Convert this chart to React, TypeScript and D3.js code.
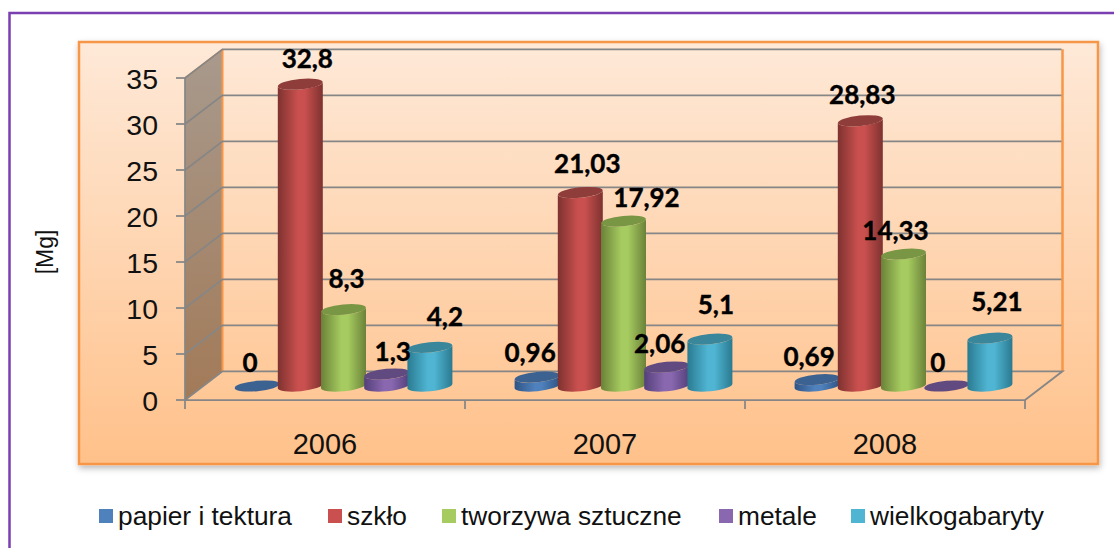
import { scaleBand, scaleLinear, range } from "d3";

const years = ["2006", "2007", "2008"];
const seriesNames = ["papier i tektura", "szkło", "tworzywa sztuczne", "metale", "wielkogabaryty"];
const papier = [0, 0.96, 0.69];
const szklo = [32.8, 21.03, 28.83];
const tworzywa = [8.3, 17.92, 14.33];
const metale = [1.3, 2.06, 0];
const wielkogabaryty = [4.2, 5.1, 5.21];
const seriesValues = [papier, szklo, tworzywa, metale, wielkogabaryty];
const yTicks = [0, 5, 10, 15, 20, 25, 30, 35];

// hand placed data labels in the original, offset from the top of each bar [dx, dy]
const labelNudge = [
  [[-7, -14.5], [-7, -15], [-8, -14]],
  [[7, -16], [7, -20], [2, -17]],
  [[3, -22], [23, -14], [-8, -14]],
  [[6, -13.5], [-7, -14.5], [-9, -14.5]],
  [[15, -21], [6, -25], [7, -27]],
];

const colors = [
  { edge: "#2f5485", mid: "#4f81bd", top: "#3c6291" },
  { edge: "#7e3230", mid: "#c9504e", top: "#8f3d3b" },
  { edge: "#6a8238", mid: "#a6cb60", top: "#789644" },
  { edge: "#54407a", mid: "#8a68b0", top: "#604a80" },
  { edge: "#2a7a90", mid: "#4fb5d3", top: "#3a879c" },
];

const depthX = 37.5;
const depthY = -28.7;
const rx = 22.5;
const ry = 5.2;
const tilt = 2.2;

const x0 = scaleBand<string>().domain(years).range([185, 1025]);
const x1 = scaleBand<number>().domain(range(seriesNames.length)).range([50.5, 266.5]);
const y = scaleLinear().domain([0, 35]).range([400, 78]);

const barBase = 386;
const barHeight = (v: number) => y(0) - y(v);

const cylinder = (cx: number, yTop: number, yBase: number) =>
  `M${cx - rx},${yTop + tilt} L${cx - rx},${yBase + tilt} ` +
  `A${rx},${ry} -5.5 0 0 ${cx + rx},${yBase - tilt} L${cx + rx},${yTop - tilt} ` +
  `A${rx},${ry} -5.5 0 1 ${cx - rx},${yTop + tilt} Z`;

const fmt = (v: number) => String(v).replace(".", ",");

export default function App() {
  const xL = 185;
  const xR = 1025;
  const legendItems = [
    { sw: 99, tx: 118 },
    { sw: 328, tx: 347 },
    { sw: 442, tx: 461 },
    { sw: 719, tx: 738 },
    { sw: 851, tx: 870 },
  ];
  return (
    <svg
      width={1114}
      height={548}
      style={{ position: "fixed", left: 0, top: 0, background: "#fff" }}
      fontFamily="'Liberation Sans', Arial, sans-serif"
    >
      <defs>
        <linearGradient id="panel" x1="0" y1="0" x2="0" y2="1">
          <stop offset="0" stopColor="#fee9d8" />
          <stop offset="1" stopColor="#ffc18a" />
        </linearGradient>
        <linearGradient id="wall" x1="0" y1="0" x2="0" y2="1">
          <stop offset="0" stopColor="#a89a8d" />
          <stop offset="1" stopColor="#a27a58" />
        </linearGradient>
        <filter id="shadow" x="-2%" y="-2%" width="104%" height="106%">
          <feDropShadow dx="1" dy="3" stdDeviation="3" floodColor="#000" floodOpacity="0.28" />
        </filter>
        {colors.map((c, i) => (
          <linearGradient key={i} id={`cyl${i}`} x1="0" y1="0" x2="1" y2="0">
            <stop offset="0" stopColor={c.edge} />
            <stop offset="0.45" stopColor={c.mid} />
            <stop offset="0.6" stopColor={c.mid} />
            <stop offset="1" stopColor={c.edge} />
          </linearGradient>
        ))}
      </defs>

      <path d="M9.5,548 L9.5,13 L1114,13" fill="none" stroke="#7a3fb0" strokeWidth={2.5} />

      <rect x={79} y={42} width={1019} height={422} fill="url(#panel)" stroke="#f79646" strokeWidth={2.5} filter="url(#shadow)" />

      {/* side wall */}
      <polygon
        points={`${xL},${y(35)} ${xL + depthX},${y(35) + depthY} ${xL + depthX},${y(0) + depthY} ${xL},${y(0)}`}
        fill="url(#wall)"
      />
      <line x1={xL} y1={y(35)} x2={xL + depthX} y2={y(35) + depthY} stroke="#f79646" strokeWidth={1.5} />
      <line x1={xL + depthX} y1={y(35) + depthY} x2={xL + depthX} y2={y(0) + depthY} stroke="#f79646" strokeWidth={2} />
      <line x1={xR + depthX} y1={y(35) + depthY} x2={xR + depthX} y2={y(0) + depthY} stroke="#f79646" strokeWidth={2.5} />

      {/* gridlines */}
      {yTicks.map((t) => (
        <g key={t} stroke="#868686" strokeWidth={1.75} fill="none">
          {t > 0 && (
            <polyline points={`${xL},${y(t)} ${xL + depthX},${y(t) + depthY} ${xR + depthX - 1},${y(t) + depthY}`} />
          )}
          <line x1={xL - 9} y1={y(t)} x2={xL} y2={y(t)} />
        </g>
      ))}
      <g stroke="#868686" strokeWidth={1.75} fill="none">
        <line x1={xL} y1={y(35)} x2={xL} y2={y(0)} />
        <polyline points={`${xL},${y(0)} ${xL + depthX},${y(0) + depthY} ${xR + depthX},${y(0) + depthY} ${xR},${y(0)} ${xL},${y(0)}`} />
        {range(years.length + 1).map((i) => (
          <line key={i} x1={xL + i * x0.step()} y1={y(0)} x2={xL + i * x0.step()} y2={y(0) + 9} />
        ))}
      </g>

      {yTicks.map((t) => (
        <text key={t} x={158} y={y(t) + 10.5} textAnchor="end" fontSize={28.5} fill="#111">
          {t}
        </text>
      ))}

      {/* bars */}
      {years.map((yr, yi) =>
        seriesValues.map((vals, si) => {
          const v = vals[yi];
          const cx = (x0(yr) as number) + (x1(si) as number) + x1.bandwidth() / 2;
          const yTop = barBase - barHeight(v);
          return (
            <g key={`${yr}-${si}`}>
              {v > 0 && <path d={cylinder(cx, yTop, barBase)} fill={`url(#cyl${si})`} />}
              <ellipse
                cx={cx}
                cy={yTop}
                rx={rx}
                ry={ry}
                fill={colors[si].top}
                transform={`rotate(-5.5 ${cx} ${yTop})`}
              />
            </g>
          );
        })
      )}

      {/* data labels */}
      {years.map((yr, yi) =>
        seriesValues.map((vals, si) => {
          const v = vals[yi];
          const cx = (x0(yr) as number) + (x1(si) as number) + x1.bandwidth() / 2;
          const yTop = barBase - barHeight(v);
          const [dx, dy] = labelNudge[si][yi];
          return (
            <text
              key={`${yr}-${si}`}
              x={cx + dx}
              y={yTop + dy}
              textAnchor="middle"
              fontFamily="Lato, sans-serif"
              fontWeight={700}
              fontSize={26}
              fill="#000"
              stroke="#000"
              strokeWidth={0.4}
            >
              {fmt(v)}
            </text>
          );
        })
      )}

      {years.map((yr) => (
        <text key={yr} x={(x0(yr) as number) + x0.bandwidth() / 2} y={453.5} textAnchor="middle" fontSize={29} fill="#111">
          {yr}
        </text>
      ))}

      <text transform="translate(53,252) rotate(-90)" textAnchor="middle" fontSize={23} fill="#111">
        [Mg]
      </text>

      {seriesNames.map((name, i) => (
        <g key={name}>
          <rect x={legendItems[i].sw} y={509} width={14} height={14} fill={colors[i].mid} />
          <text x={legendItems[i].tx} y={524.5} fontSize={26.3} fill="#111">
            {name}
          </text>
        </g>
      ))}
    </svg>
  );
}
